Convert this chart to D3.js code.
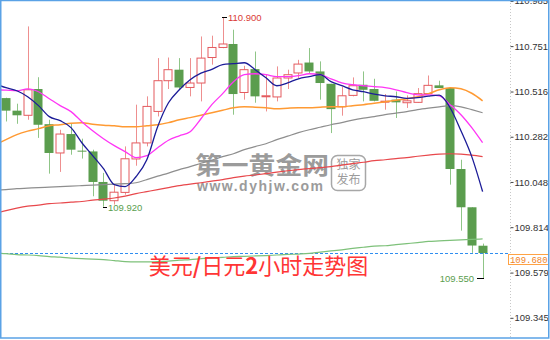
<!DOCTYPE html>
<html>
<head>
<meta charset="utf-8">
<script src="https://cdn.jsdelivr.net/npm/d3@7"></script>
<style>
  html, body { margin: 0; padding: 0; background: #fff; }
  svg { display: block; }
</style>
</head>
<body>
<svg id="chart" width="550" height="340"></svg>
<script>
// USD/JPY 2-hour bars
const opens  = [110.482,110.417,110.393,110.529,110.347,110.198,110.296,110.210,110.206,110.048,
                109.951,109.994,110.167,110.250,110.413,110.572,110.629,110.537,110.560,110.692,
                110.744,110.762,110.511,110.632,110.489,110.488,110.586,110.612,110.666,110.620,
                110.556,110.437,110.496,110.551,110.529,110.463,110.474,110.458,110.460,110.505,
                110.548,110.534,110.115,109.917,109.718];
const highs  = [110.484,110.453,110.853,110.590,110.370,110.318,110.349,110.272,110.215,110.095,
                110.031,110.232,110.448,110.491,110.689,110.692,110.689,110.689,110.801,110.805,
                110.900,110.836,110.649,110.723,110.603,110.646,110.629,110.680,110.741,110.672,
                110.556,110.541,110.589,110.620,110.582,110.503,110.516,110.496,110.534,110.599,
                110.572,110.539,110.163,109.917,109.729];
const lows   = [110.361,110.349,110.370,110.276,110.091,110.100,110.189,110.169,109.974,109.920,
                109.931,109.982,110.132,110.232,110.387,110.529,110.525,110.491,110.465,110.655,
                110.740,110.396,110.474,110.458,110.413,110.465,110.529,110.586,110.608,110.474,
                110.301,110.391,110.491,110.465,110.465,110.422,110.379,110.431,110.458,110.505,
                110.534,110.034,109.796,109.681,109.550];
const closes = [110.417,110.393,110.525,110.344,110.198,110.296,110.215,110.205,110.048,109.951,
                109.995,110.168,110.250,110.439,110.572,110.629,110.537,110.560,110.689,110.744,
                110.762,110.503,110.629,110.491,110.494,110.586,110.603,110.658,110.620,110.560,
                110.425,110.494,110.546,110.525,110.468,110.466,110.460,110.468,110.505,110.548,
                110.534,110.115,109.917,109.719,109.680];

// Moving averages: first value belongs to the bar just before the first visible one
const maBlue    = [110.556,110.536,110.520,110.489,110.443,110.386,110.365,110.329,110.251,110.184,
                   110.117,110.034,110.024,110.075,110.163,110.334,110.458,110.525,110.577,110.611,
                   110.631,110.655,110.660,110.665,110.629,110.587,110.546,110.561,110.582,110.593,
                   110.603,110.567,110.546,110.525,110.515,110.502,110.494,110.489,110.481,110.484,
                   110.492,110.497,110.432,110.313,110.179,109.998];
const maMagenta = [110.525,110.523,110.520,110.530,110.515,110.479,110.443,110.412,110.360,110.313,
                   110.272,110.236,110.205,110.174,110.184,110.225,110.264,110.287,110.308,110.375,
                   110.448,110.505,110.567,110.603,110.608,110.603,110.593,110.593,110.598,110.608,
                   110.603,110.582,110.561,110.551,110.546,110.541,110.536,110.525,110.510,110.499,
                   110.499,110.494,110.448,110.396,110.329,110.251];
const maOrange  = [110.241,110.267,110.293,110.311,110.324,110.339,110.344,110.352,110.355,110.347,
                   110.342,110.339,110.334,110.334,110.339,110.344,110.355,110.370,110.381,110.393,
                   110.406,110.419,110.432,110.437,110.435,110.432,110.427,110.430,110.432,110.432,
                   110.435,110.437,110.437,110.443,110.448,110.455,110.463,110.471,110.479,110.489,
                   110.505,110.525,110.536,110.530,110.507,110.468];
const maGray    = [110.006,110.008,110.013,110.016,110.019,110.021,110.024,110.026,110.029,110.032,
                   110.034,110.037,110.039,110.044,110.060,110.078,110.094,110.112,110.127,110.145,
                   110.161,110.179,110.194,110.215,110.231,110.246,110.267,110.285,110.303,110.318,
                   110.331,110.344,110.355,110.368,110.378,110.386,110.396,110.404,110.412,110.422,
                   110.430,110.437,110.443,110.437,110.422,110.406];
const maRed     = [109.884,109.900,109.913,109.923,109.928,109.936,109.939,109.944,109.947,109.954,
                   109.959,109.965,109.975,109.988,109.998,110.008,110.019,110.029,110.037,110.044,
                   110.052,110.060,110.070,110.078,110.084,110.091,110.099,110.106,110.112,110.117,
                   110.122,110.127,110.135,110.143,110.150,110.158,110.163,110.169,110.174,110.181,
                   110.187,110.192,110.194,110.192,110.187,110.179];
const maGreen   = [109.680,109.677,109.672,109.670,109.667,109.662,109.659,109.654,109.651,109.649,
                   109.646,109.641,109.636,109.634,109.634,109.636,109.638,109.643,109.646,109.651,
                   109.655,109.658,109.662,109.663,109.665,109.667,109.670,109.673,109.675,109.678,
                   109.685,109.691,109.697,109.704,109.710,109.716,109.718,109.724,109.729,109.734,
                   109.740,109.743,109.746,109.748,109.751,109.753];

const tickValues = [110.985, 110.751, 110.516, 110.282, 110.048, 109.814, 109.579, 109.345];
const lastPrice = 109.680;
// bars whose extreme is marked with its price
const highMarks = [20];
const lowMarks  = [9, 44];

const titleParts = [["美元", false], ["/", true], ["日元", false], ["2", true], ["小时走势图", false]];
const brandName = "第一黄金网";
const brandUrl = "www.dyhjw.com";
const stampLines = ["独家", "发布"];

const plotRight = 510, plotBottom = 338;

const svg = d3.select("#chart");

const x = d3.scaleLinear().domain([0, closes.length - 1]).range([6, 482.6]);
const y = d3.scaleLinear().domain([109.345, 110.985]).range([317.8, 0.9]);

svg.append("defs").append("clipPath").attr("id", "plotClip")
  .append("rect").attr("x", 1).attr("y", 1).attr("width", plotRight - 1).attr("height", plotBottom - 1);

// watermark: site name with its address underneath, plus a stamp box
const wm = svg.append("g").attr("opacity", 0.75).attr("fill", "#7a7a7a");
const brand = wm.append("text").attr("font-weight", "bold");
brand.append("tspan")
  .attr("x", 195).attr("y", 174)
  .attr("textLength", 134).attr("lengthAdjust", "spacingAndGlyphs")
  .attr("font-family", "'Noto Sans CJK SC', sans-serif").attr("font-size", 24)
  .text(brandName);
brand.append("tspan")
  .attr("x", 197).attr("y", 191)
  .attr("textLength", 126).attr("lengthAdjust", "spacing")
  .attr("font-family", "'Liberation Sans', Arial, sans-serif").attr("font-size", 14)
  .text(brandUrl);
wm.append("rect")
  .attr("x", 331.5).attr("y", 155.5).attr("width", 34).attr("height", 35)
  .attr("rx", 6).attr("fill", "none").attr("stroke", "#8a8a8a").attr("stroke-width", 1.5);
const stamp = wm.append("text")
  .attr("text-anchor", "middle")
  .attr("font-family", "'Noto Sans CJK SC', sans-serif").attr("font-size", 12);
stampLines.forEach((s, k) => {
  stamp.append("tspan").attr("x", 348.5).attr("y", 169 + k * 15).text(s);
});

const plot = svg.append("g").attr("clip-path", "url(#plotClip)");

// last-price guide
plot.append("line")
  .attr("x1", 0).attr("x2", plotRight)
  .attr("y1", Math.round(y(lastPrice)) + 0.5).attr("y2", Math.round(y(lastPrice)) + 0.5)
  .attr("stroke", "#2f8ef0").attr("stroke-width", 1).attr("stroke-dasharray", "3,2");

// candlesticks
const bars = d3.range(closes.length).map(i => ({
  i, o: opens[i], h: highs[i], l: lows[i], c: closes[i], up: closes[i] >= opens[i]
}));
const bw = 9;
const cg = plot.append("g");
cg.selectAll("line.wick").data(bars).join("line")
  .attr("class", "wick")
  .attr("x1", d => Math.round(x(d.i)) + 0.5).attr("x2", d => Math.round(x(d.i)) + 0.5)
  .attr("y1", d => y(d.h)).attr("y2", d => y(d.l))
  .attr("stroke", d => d.up ? "#ee8f8f" : "#8fc587").attr("stroke-width", 1);
cg.selectAll("rect.body").data(bars).join("rect")
  .attr("class", "body")
  .attr("x", d => Math.round(x(d.i)) - 4 + (d.up ? 0 : -0.5))
  .attr("y", d => y(Math.max(d.o, d.c)))
  .attr("width", d => d.up ? bw - 1 : bw)
  .attr("height", d => Math.max(1, Math.abs(y(d.o) - y(d.c))))
  .attr("fill", d => d.up ? "#fff" : "#5b9d4e")
  .attr("stroke", d => d.up ? "#e45a5e" : "#5b9d4e")
  .attr("stroke-width", d => d.up ? 1 : 0);

// moving averages
const maSeries = [
  [maGreen, "#7ec17a", 1.2],
  [maRed, "#e8484c", 1.2],
  [maGray, "#8e8e8e", 1.2],
  [maOrange, "#ff9a33", 1.5],
  [maMagenta, "#ff35f5", 1.3],
  [maBlue, "#1c1c98", 1.3]
];
const line = d3.line().x((d, k) => x(k - 1)).y(d => y(d)).curve(d3.curveMonotoneX);
maSeries.forEach(([vals, col, w]) => {
  plot.append("path").datum(vals)
    .attr("d", line).attr("fill", "none")
    .attr("stroke", col).attr("stroke-width", w);
});

// price marks on extremes
const fmt = d3.format(".3f");
const labelFont = "'Liberation Sans', Arial, sans-serif";
highMarks.forEach(i => {
  const cx = Math.round(x(i)), cy = Math.round(y(highs[i])) + 0.5;
  svg.append("line").attr("x1", cx - 1).attr("x2", cx + 4).attr("y1", cy).attr("y2", cy)
    .attr("stroke", "#000").attr("stroke-width", 1);
  svg.append("text").attr("x", cx + 5).attr("y", cy).attr("dy", "0.35em")
    .attr("font-family", labelFont).attr("font-size", 9.5).attr("fill", "#d93a35")
    .text(fmt(highs[i]));
});
lowMarks.forEach(i => {
  const cx = Math.round(x(i)), cy = Math.round(y(lows[i])) + 0.5;
  const right = i > closes.length - 4;
  svg.append("line")
    .attr("x1", right ? cx - 6 : cx).attr("x2", right ? cx + 1 : cx + 4)
    .attr("y1", cy).attr("y2", cy)
    .attr("stroke", "#000").attr("stroke-width", 1);
  svg.append("text")
    .attr("x", right ? cx - 9 : cx + 5).attr("y", cy).attr("dy", "0.35em")
    .attr("text-anchor", right ? "end" : "start")
    .attr("font-family", labelFont).attr("font-size", 9.5).attr("fill", "#5a9e4e")
    .text(fmt(lows[i]));
});

// title
const title = svg.append("text")
  .attr("x", 258.5).attr("y", 273.5).attr("text-anchor", "middle")
  .attr("font-family", "'Noto Sans CJK SC', sans-serif")
  .attr("font-size", 22).attr("fill", "#ff3535");
titleParts.forEach(([t, b]) => {
  title.append("tspan").attr("font-weight", b ? "bold" : "normal").text(t);
});

// right price axis
svg.append("line")
  .attr("x1", plotRight + 0.5).attr("x2", plotRight + 0.5).attr("y1", 0).attr("y2", plotBottom)
  .attr("stroke", "#c8c8c8").attr("stroke-dasharray", "1,2");
const axis = d3.axisRight(y).tickValues(tickValues).tickFormat(fmt).tickSize(3).tickPadding(1);
const ag = svg.append("g").attr("transform", `translate(${plotRight + 0.5},0)`).call(axis);
ag.select(".domain").remove();
ag.selectAll(".tick line").attr("stroke", "#444");
ag.selectAll(".tick text")
  .attr("font-family", labelFont).attr("font-size", 9.5).attr("fill", "#333");

// last price tag
const ly = Math.round(y(lastPrice)) + 1;
svg.append("rect")
  .attr("x", 508.5).attr("y", ly + 0.5).attr("width", 40).attr("height", 10)
  .attr("fill", "#fff").attr("stroke", "#ffa244").attr("stroke-width", 1);
svg.append("text")
  .attr("x", 510).attr("y", ly + 5.5).attr("dy", "0.35em")
  .attr("textLength", 37.5).attr("lengthAdjust", "spacingAndGlyphs")
  .attr("font-family", "'Liberation Mono', 'DejaVu Sans Mono', monospace")
  .attr("font-size", 9.5).attr("fill", "#f0821e")
  .text(fmt(lastPrice));

// frame
svg.append("rect")
  .attr("x", 0.75).attr("y", 0.5).attr("width", 548).attr("height", 337.5)
  .attr("fill", "none").attr("stroke", "#5aa2e6").attr("stroke-width", 1.5);
</script>
</body>
</html>
